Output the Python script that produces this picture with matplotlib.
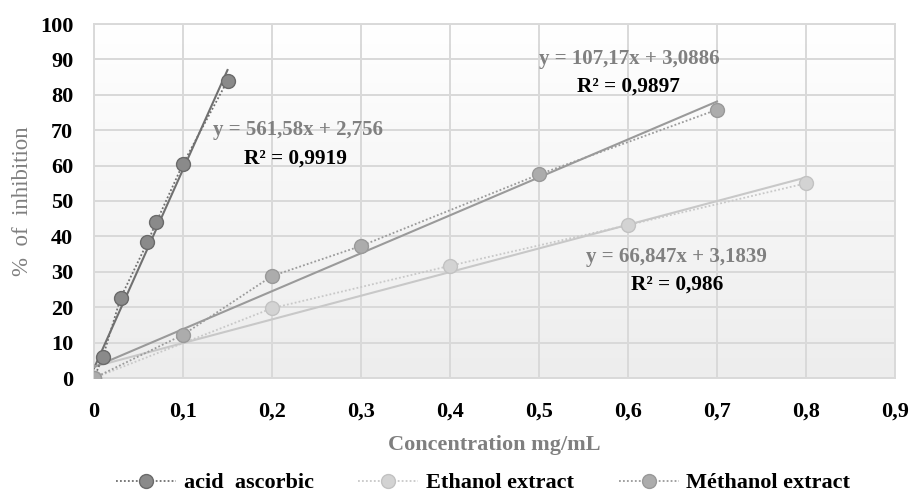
import numpy as np
import matplotlib
matplotlib.use("Agg")
import matplotlib.pyplot as plt
from matplotlib.colors import LinearSegmentedColormap

# ---- data ----
series_names = ["acid  ascorbic", "Ethanol extract", "Méthanol extract"]
acid_x = [0, 0.01, 0.03, 0.06, 0.07, 0.1, 0.15]
acid_y = [0, 6.0, 22.7, 38.3, 44.0, 60.5, 84.0]
eth_x = [0, 0.2, 0.4, 0.6, 0.8]
eth_y = [0, 19.7, 31.7, 43.2, 55.0]
meth_x = [0, 0.1, 0.2, 0.3, 0.5, 0.7]
meth_y = [0, 12.2, 28.8, 37.3, 57.5, 75.8]
slopes = [561.58, 66.847, 107.17]
intercepts = [2.756, 3.1839, 3.0886]
eq_labels = ["y = 561,58x + 2,756", "y = 66,847x + 3,1839", "y = 107,17x + 3,0886"]
r2_labels = ["R² = 0,9919", "R² = 0,986", "R² = 0,9897"]
xticks = [0, 0.1, 0.2, 0.3, 0.4, 0.5, 0.6, 0.7, 0.8, 0.9]
xtick_labels = ["0", "0,1", "0,2", "0,3", "0,4", "0,5", "0,6", "0,7", "0,8", "0,9"]
yticks = [0, 10, 20, 30, 40, 50, 60, 70, 80, 90, 100]

plt.rcParams['font.family'] = ['Liberation Serif', 'DejaVu Serif']
plt.rcParams['font.weight'] = 'bold'

W, H = 910, 493
fig = plt.figure(figsize=(W / 100, H / 100), dpi=100)
ax = fig.add_axes([94 / W, 1 - 378 / H, (895 - 94) / W, (378 - 24) / H])

# gradient background
cmap = LinearSegmentedColormap.from_list("bg", ["#ffffff", "#ededed"])
grad = np.linspace(0, 1, 256).reshape(-1, 1)
ax.imshow(grad, extent=[0, 1, 0, 1], transform=ax.transAxes, aspect='auto',
          cmap=cmap, zorder=0)

ax.set_xlim(0, 0.9)
ax.set_ylim(0, 100)
ax.set_xticks(xticks)
ax.set_xticklabels(xtick_labels)
ax.set_yticks(yticks)
ax.grid(True, color="#d9d9d9", linewidth=1.4, zorder=1)
ax.set_axisbelow(True)
for s in ax.spines.values():
    s.set_color("#d9d9d9")
    s.set_linewidth(1.4)
ax.tick_params(length=0, labelsize=16, colors="black")
ax.tick_params(axis='x', pad=17)
ax.tick_params(axis='y', pad=15)

xs = [acid_x, eth_x, meth_x]
ys = [acid_y, eth_y, meth_y]
fills = ["#8a8a8a", "#d3d3d3", "#acacac"]
edges = ["#6a6a6a", "#c2c2c2", "#999999"]
lines = ["#707070", "#c8c8c8", "#9a9a9a"]

handles = []
for i in range(3):
    h, = ax.plot(xs[i], ys[i], linestyle=(0, (1, 1.2)), linewidth=1.3,
                 color=lines[i], marker='o', markersize=10,
                 markerfacecolor=fills[i], markeredgecolor=edges[i],
                 markeredgewidth=1.0, zorder=4 + i, label=series_names[i])
    handles.append(h)
    xx = np.array([0, max(xs[i])])
    ax.plot(xx, slopes[i] * xx + intercepts[i], color=lines[i], linewidth=1.5,
            zorder=3)

# equation annotations
eq_pos = [(0.2287, 70.0), (0.654, 34.2), (0.601, 90.1)]
r2_pos = [(0.226, 62.1), (0.655, 26.3), (0.601, 82.2)]
for i in range(3):
    ax.text(eq_pos[i][0], eq_pos[i][1], eq_labels[i], color="#808080",
            fontsize=15, fontweight='bold', ha='center', va='center', zorder=8)
    ax.text(r2_pos[i][0], r2_pos[i][1], r2_labels[i], color="black",
            fontsize=15.3, fontweight='bold', ha='center', va='center', zorder=8)

ax.set_xlabel("Concentration mg/mL", color="#7f7f7f", fontsize=16,
              fontweight='bold')
ax.xaxis.set_label_coords(0.5, -0.16)
ax.set_ylabel("%  of  inhibition", color="#7f7f7f", fontsize=16.5,
              fontweight='normal')
ax.yaxis.set_label_coords(-0.076, 0.5)

fig.legend(handles=handles, loc='center', bbox_to_anchor=(0.531, 0.02),
           ncol=3, frameon=False, fontsize=16, handlelength=2.7,
           handletextpad=0.35, columnspacing=2.0)

fig.savefig("out.png", dpi=100)
